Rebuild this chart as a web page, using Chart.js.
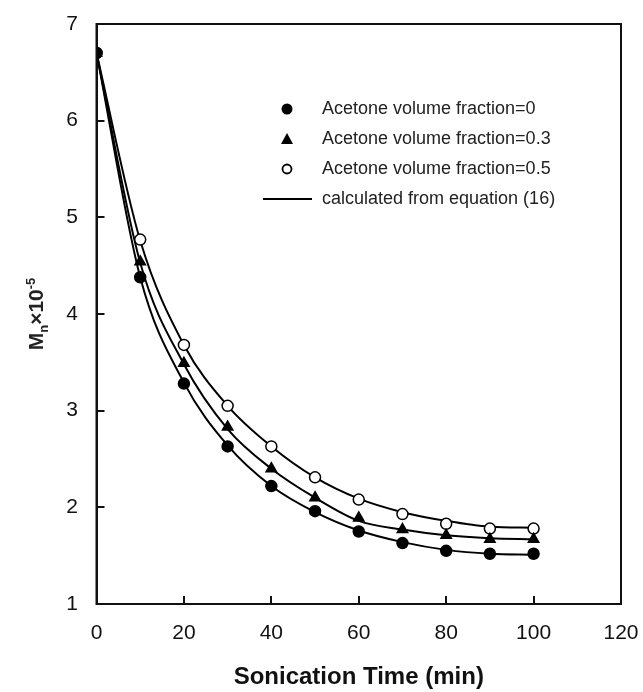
<!DOCTYPE html>
<html>
<head>
<meta charset="utf-8">
<script src="https://cdn.jsdelivr.net/npm/chart.js@4"></script>
<style>
    html, body {margin: 0; padding: 0; background: #fff;}
    #wrap {width: 643px; height: 692px;}
</style>
</head>
<body>
<div id="wrap"><canvas id="mn_canvas" width="643" height="692"></canvas></div>
<script>
// sonication time (min)
const time = [0, 10, 20, 30, 40, 50, 60, 70, 80, 90, 100];

// measured Mn x 10^-5
const mn_fraction_0 = [6.70, 4.38, 3.28, 2.63, 2.22, 1.96, 1.75, 1.63, 1.55, 1.52, 1.52];
const mn_fraction_03 = [6.70, 4.54, 3.49, 2.83, 2.40, 2.10, 1.89, 1.77, 1.71, 1.67, 1.67];
const mn_fraction_05 = [6.70, 4.77, 3.68, 3.05, 2.63, 2.31, 2.08, 1.93, 1.83, 1.78, 1.78];

// curves (equation 16)
const calc_fraction_0 = [6.70, 4.38, 3.29, 2.64, 2.22, 1.95, 1.76, 1.64, 1.56, 1.52, 1.51];
const calc_fraction_03 = [6.70, 4.53, 3.48, 2.81, 2.40, 2.10, 1.86, 1.77, 1.71, 1.68, 1.67];
const calc_fraction_05 = [6.70, 4.76, 3.68, 3.05, 2.63, 2.31, 2.09, 1.95, 1.86, 1.80, 1.79];

const x_ticks = [0, 20, 40, 60, 80, 100, 120];
const y_ticks = [1, 2, 3, 4, 5, 6, 7];

const legend_labels = [
    "Acetone volume fraction=0",
    "Acetone volume fraction=0.3",
    "Acetone volume fraction=0.5",
    "calculated from equation (16)"
];

const font_family = "'Liberation Sans', Arial, Helvetica, sans-serif";

function to_points(ys) {
    return time.map((t, i) => ({x: t, y: ys[i]}));
}

function curve(ys) {
    return {
        data: to_points(ys),
        showLine: true,
        borderColor: "#000",
        borderWidth: 2,
        pointRadius: 0,
        cubicInterpolationMode: "monotone",
        order: 5
    };
}

function markers(ys, style, fill) {
    return {
        data: to_points(ys),
        showLine: false,
        pointStyle: style,
        pointRadius: style === "triangle" ? 6 : 5.5,
        pointBackgroundColor: fill,
        pointBorderColor: "#000",
        pointBorderWidth: 1.5,
        order: 1
    };
}

// frame, legend and the y title with sub/superscript
const extras_plugin = {
    id: "extras",
    afterDraw(chart) {
        const ctx = chart.ctx;
        const area = chart.chartArea;
        ctx.save();

        ctx.strokeStyle = "#111";
        ctx.lineWidth = 2;
        ctx.strokeRect(area.left, area.top, area.right - area.left, area.bottom - area.top);

        // legend
        const sx = 287, tx = 322;
        const rows = [109, 139, 169, 199];
        ctx.fillStyle = "#000";
        ctx.strokeStyle = "#000";
        ctx.beginPath();
        ctx.arc(sx, rows[0], 5.5, 0, Math.PI * 2);
        ctx.fill();
        ctx.beginPath();
        ctx.moveTo(sx, rows[1] - 6);
        ctx.lineTo(sx + 6, rows[1] + 5);
        ctx.lineTo(sx - 6, rows[1] + 5);
        ctx.closePath();
        ctx.fill();
        ctx.lineWidth = 1.8;
        ctx.beginPath();
        ctx.arc(sx, rows[2], 4.5, 0, Math.PI * 2);
        ctx.stroke();
        ctx.lineWidth = 2;
        ctx.beginPath();
        ctx.moveTo(263, rows[3]);
        ctx.lineTo(312, rows[3]);
        ctx.stroke();

        ctx.fillStyle = "#222";
        ctx.font = "18px " + font_family;
        ctx.textBaseline = "middle";
        ctx.textAlign = "left";
        legend_labels.forEach((txt, i) => ctx.fillText(txt, tx, rows[i]));

        // y title: Mn x 10^-5
        ctx.translate(43, 314);
        ctx.rotate(-Math.PI / 2);
        ctx.textBaseline = "alphabetic";
        const big = "bold 21px " + font_family;
        const small = "bold 13px " + font_family;
        const parts = [
            {t: "M", f: big, dy: 0},
            {t: "n", f: small, dy: 5},
            {t: "\u00d710", f: big, dy: 0},
            {t: "-5", f: small, dy: -8}
        ];
        let total = 0;
        for (const p of parts) {
            ctx.font = p.f;
            p.w = ctx.measureText(p.t).width;
            total += p.w;
        }
        let x = -total / 2;
        for (const p of parts) {
            ctx.font = p.f;
            ctx.fillText(p.t, x, p.dy);
            x += p.w;
        }
        ctx.restore();
    }
};

let mn_plot;

function setup_mn_plot() {
    let data = {
        datasets: [
            markers(mn_fraction_0, "circle", "#000"),
            markers(mn_fraction_03, "triangle", "#000"),
            markers(mn_fraction_05, "circle", "#fff"),
            curve(calc_fraction_0),
            curve(calc_fraction_03),
            curve(calc_fraction_05)
        ]
    };

    let config = {
        type: 'scatter',
        data: data,
        options: {
            responsive: false,
            animation: false,
            layout: {
                padding: {top: 24, right: 22, left: 0, bottom: 0}
            },
            plugins: {
                legend: {display: false},
                tooltip: {enabled: false}
            },
            scales: {
                x: {
                    type: 'linear',
                    min: 0,
                    max: 120,
                    afterFit: (scale) => {
                        scale.height = 88;
                        scale.paddingLeft = 0;
                        scale.paddingRight = 0;
                    },
                    afterBuildTicks: (scale) => { scale.ticks = x_ticks.map(v => ({value: v})); },
                    grid: {drawOnChartArea: false, tickLength: -8, color: "#111", lineWidth: 2},
                    border: {color: "#111", width: 2},
                    ticks: {
                        padding: 25,
                        color: "#111",
                        font: {family: font_family, size: 21}
                    },
                    title: {
                        display: true,
                        text: "Sonication Time (min)",
                        color: "#111",
                        padding: 0,
                        font: {family: font_family, size: 24, weight: 'bold'}
                    }
                },
                y: {
                    type: 'linear',
                    min: 1,
                    max: 7,
                    afterFit: (scale) => {
                        scale.width = 96.5;
                        scale.paddingTop = 0;
                        scale.paddingBottom = 0;
                    },
                    afterBuildTicks: (scale) => { scale.ticks = y_ticks.map(v => ({value: v})); },
                    grid: {drawOnChartArea: false, tickLength: -8, color: "#111", lineWidth: 2},
                    border: {color: "#111", width: 2},
                    ticks: {
                        padding: 26.5,
                        color: "#111",
                        font: {family: font_family, size: 21}
                    }
                }
            }
        },
        plugins: [extras_plugin]
    };

    mn_plot = new Chart(
        document.getElementById('mn_canvas'),
        config
    );
}

setup_mn_plot();
</script>
</body>
</html>
